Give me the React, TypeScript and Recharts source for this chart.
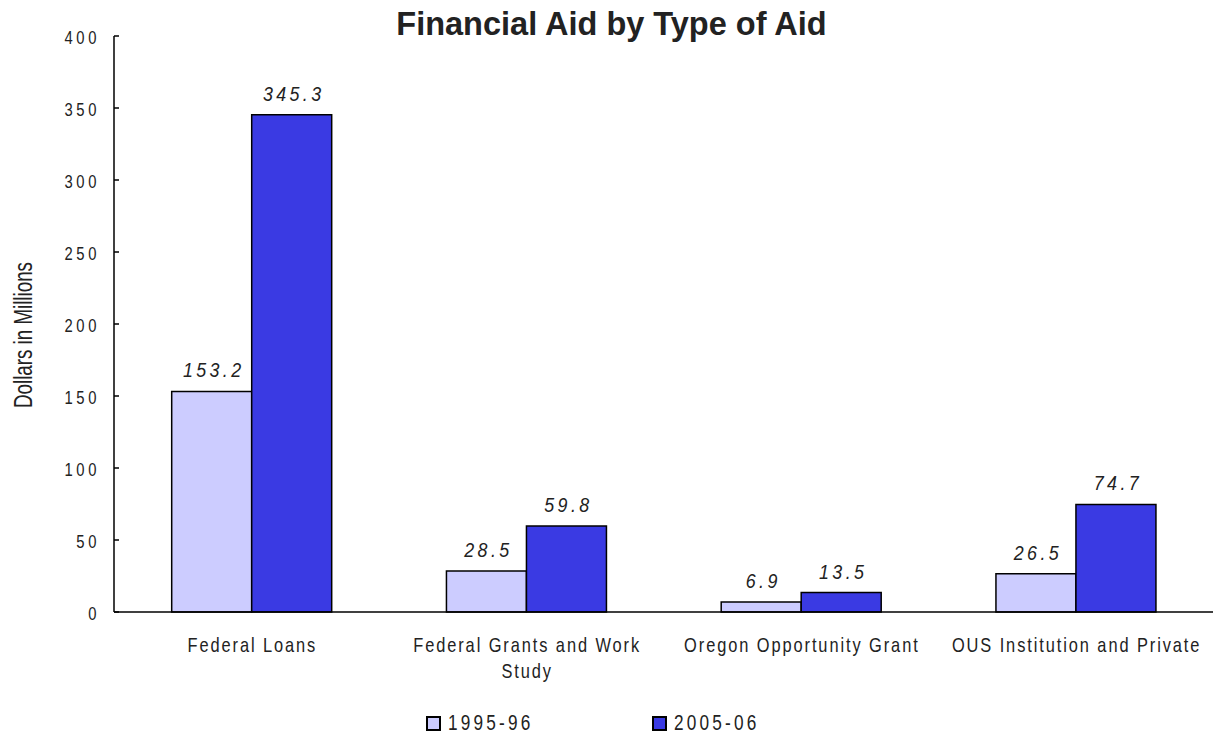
import { BarChart, Bar, XAxis, YAxis, LabelList, Legend } from 'recharts';

const categories = ['Federal Loans', 'Federal Grants and Work Study', 'Oregon Opportunity Grant', 'OUS Institution and Private'];
const tickLines = [['Federal Loans'], ['Federal Grants and Work', 'Study'], ['Oregon Opportunity Grant'], ['OUS Institution and Private']];
const values1995 = [153.2, 28.5, 6.9, 26.5];
const values2005 = [345.3, 59.8, 13.5, 74.7];
const yTicks = [0, 50, 100, 150, 200, 250, 300, 350, 400];

const data = categories.map((name, i) => ({
  name,
  a: values1995[i],
  b: values2005[i],
}));

const FONT = '"Liberation Sans", Arial, sans-serif';
const LIGHT = '#ccccff';
const DARK = '#3a3ae3';
const INK = '#222';

// Liberation Sans squeezed horizontally to imitate the narrow font of the original
function Narrow(props: any) {
  const { x, y, anchor = 'middle', size, ls = 0, sx = 0.8, italic = false, children } = props;
  return (
    <text
      transform={`translate(${x},${y}) scale(${sx},1)`}
      x={0}
      y={0}
      textAnchor={anchor}
      fontFamily={FONT}
      fontSize={size}
      fontStyle={italic ? 'italic' : 'normal'}
      letterSpacing={ls}
      fill={INK}
    >
      {children}
    </text>
  );
}

function YTick(props: any) {
  const { x, y, payload } = props;
  const axisX = x + 15;
  return (
    <g>
      <line x1={axisX} x2={axisX + 5} y1={y} y2={y} stroke="#000" strokeWidth={1.5} />
      <Narrow x={axisX - 14} y={y + 8} anchor="end" size={18.5} ls={4.5}>
        {payload.value}
      </Narrow>
    </g>
  );
}

function XTick(props: any) {
  const { x, y, index } = props;
  const lines = tickLines[index] || [];
  return (
    <g>
      {lines.map((l, i) => (
        <Narrow key={i} x={x + 1} y={y + 32 + i * 26} size={20.5} ls={2.4}>
          {l}
        </Narrow>
      ))}
    </g>
  );
}

function BarLabel(props: any) {
  const { x, y, width, value } = props;
  return (
    <Narrow x={x + width / 2 + 2} y={y - 14} size={21} ls={4} sx={0.85} italic>
      {value}
    </Narrow>
  );
}

function LegendContent() {
  const items = [
    { label: '1995-96', color: LIGHT, left: 426 },
    { label: '2005-06', color: DARK, left: 652 },
  ];
  return (
    <div style={{ position: 'relative', width: 1221, height: 32 }}>
      {items.map((it) => (
        <div key={it.label}>
          <div
            style={{
              position: 'absolute',
              left: it.left,
              top: 12,
              width: 11,
              height: 11,
              background: it.color,
              border: '2px solid #000',
            }}
          />
          <span
            style={{
              position: 'absolute',
              left: it.left + 22,
              top: 8,
              fontFamily: FONT,
              fontSize: 21.5,
              lineHeight: '22px',
              letterSpacing: 4,
              color: INK,
              whiteSpace: 'nowrap',
              transform: 'scaleX(0.8)',
              transformOrigin: 'left center',
            }}
          >
            {it.label}
          </span>
        </div>
      ))}
    </div>
  );
}

export default function App() {
  return (
    <div style={{ position: 'absolute', left: 0, top: 0, width: 1221, height: 736, background: '#fff', overflow: 'hidden' }}>
      <div
        style={{
          position: 'absolute',
          top: 8,
          left: 0,
          width: 1223,
          textAlign: 'center',
          fontFamily: FONT,
          fontWeight: 'bold',
          fontSize: 32.5,
          lineHeight: '32px',
          color: INK,
        }}
      >
        Financial Aid by Type of Aid
      </div>
      <div
        style={{
          position: 'absolute',
          left: 23,
          top: 335,
          transform: 'translate(-50%, -50%) rotate(-90deg) scaleX(0.75)',
          fontFamily: FONT,
          fontSize: 25,
          color: INK,
          whiteSpace: 'nowrap',
        }}
      >
        Dollars in Millions
      </div>
      <BarChart
        width={1221}
        height={736}
        data={data}
        margin={{ top: 36, right: 8, left: 40, bottom: 0 }}
        barCategoryGap="21%"
        barGap={0}
      >
        <YAxis
          width={74}
          domain={[0, 400]}
          ticks={yTicks}
          interval={0}
          tickSize={0}
          tickMargin={15}
          tick={<YTick />}
          axisLine={{ stroke: '#000', strokeWidth: 1.5 }}
          tickLine={false}
        />
        <XAxis
          dataKey="name"
          height={92}
          interval={0}
          tickLine={false}
          tick={<XTick />}
          axisLine={{ stroke: '#000', strokeWidth: 1.5 }}
        />
        <Legend
          verticalAlign="bottom"
          height={32}
          content={<LegendContent />}
          wrapperStyle={{ left: 0, width: 1221 }}
        />
        <Bar dataKey="a" name="1995-96" fill={LIGHT} stroke="#000" strokeWidth={1.5} isAnimationActive={false}>
          <LabelList dataKey="a" content={<BarLabel />} />
        </Bar>
        <Bar dataKey="b" name="2005-06" fill={DARK} stroke="#000" strokeWidth={1.5} isAnimationActive={false}>
          <LabelList dataKey="b" content={<BarLabel />} />
        </Bar>
      </BarChart>
    </div>
  );
}
